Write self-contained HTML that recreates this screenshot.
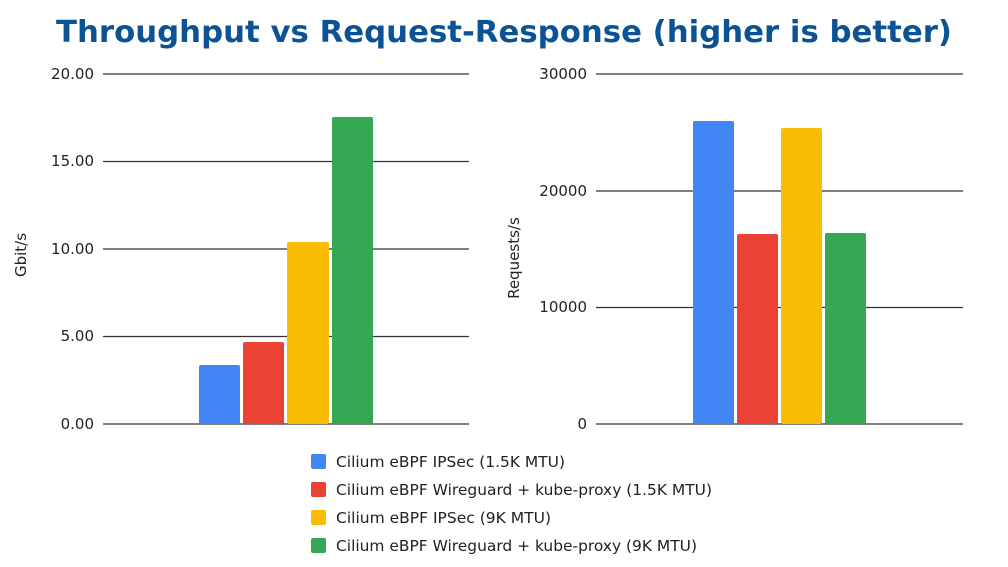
<!DOCTYPE html>
<html><head><meta charset="utf-8"><style>
html,body{margin:0;padding:0;background:#fff;width:1008px;height:567px;overflow:hidden}
text{font-family:"DejaVu Sans","Liberation Sans",sans-serif}
</style></head><body>
<svg width="1008" height="567" viewBox="0 0 1008 567" xmlns="http://www.w3.org/2000/svg">
<rect width="1008" height="567" fill="#fff"/>
<text x="504" y="42" text-anchor="middle" font-size="30" font-weight="bold" fill="#0b5394" textLength="896" lengthAdjust="spacingAndGlyphs">Throughput vs Request-Response (higher is better)</text>
<g stroke="#333" stroke-width="1.2">
<line x1="103" y1="74" x2="469" y2="74"/><line x1="103" y1="161.5" x2="469" y2="161.5"/>
<line x1="103" y1="249" x2="469" y2="249"/><line x1="103" y1="336.5" x2="469" y2="336.5"/>
<line x1="103" y1="424" x2="469" y2="424"/>
<line x1="596" y1="74" x2="963" y2="74"/><line x1="596" y1="191" x2="963" y2="191"/>
<line x1="596" y1="307.5" x2="963" y2="307.5"/><line x1="596" y1="424" x2="963" y2="424"/>
</g>
<g font-size="15" fill="#222" text-anchor="end">
<text x="94" y="79">20.00</text><text x="94" y="166">15.00</text><text x="94" y="254">10.00</text><text x="94" y="341">5.00</text><text x="94" y="429">0.00</text>
<text x="587" y="79">30000</text><text x="587" y="196">20000</text><text x="587" y="312">10000</text><text x="587" y="429">0</text>
</g>
<text transform="translate(26,255) rotate(-90)" text-anchor="middle" font-size="15" fill="#222">Gbit/s</text>
<text transform="translate(519,258) rotate(-90)" text-anchor="middle" font-size="15" fill="#222">Requests/s</text>
<g>
<rect x="199" y="365" width="41" height="59" rx="2" fill="#4285f4"/>
<rect x="243" y="342" width="41" height="82" rx="2" fill="#ea4335"/>
<rect x="287" y="242" width="42" height="182" rx="2" fill="#fbbc04"/>
<rect x="332" y="117" width="41" height="307" rx="2" fill="#34a853"/>
<rect x="693" y="121" width="41" height="303" rx="2" fill="#4285f4"/>
<rect x="737" y="234" width="41" height="190" rx="2" fill="#ea4335"/>
<rect x="781" y="128" width="41" height="296" rx="2" fill="#fbbc04"/>
<rect x="825" y="233" width="41" height="191" rx="2" fill="#34a853"/>
</g>
<rect x="311" y="454" width="15" height="15" rx="2" fill="#4285f4"/>
<rect x="311" y="482" width="15" height="15" rx="2" fill="#ea4335"/>
<rect x="311" y="510" width="15" height="15" rx="2" fill="#fbbc04"/>
<rect x="311" y="538" width="15" height="15" rx="2" fill="#34a853"/>
<g font-size="15" fill="#222">
<text x="336" y="467" textLength="229" lengthAdjust="spacingAndGlyphs">Cilium eBPF IPSec (1.5K MTU)</text>
<text x="336" y="495" textLength="376" lengthAdjust="spacingAndGlyphs">Cilium eBPF Wireguard + kube-proxy (1.5K MTU)</text>
<text x="336" y="523" textLength="215" lengthAdjust="spacingAndGlyphs">Cilium eBPF IPSec (9K MTU)</text>
<text x="336" y="551" textLength="361" lengthAdjust="spacingAndGlyphs">Cilium eBPF Wireguard + kube-proxy (9K MTU)</text>
</g>
</svg>
</body></html>
